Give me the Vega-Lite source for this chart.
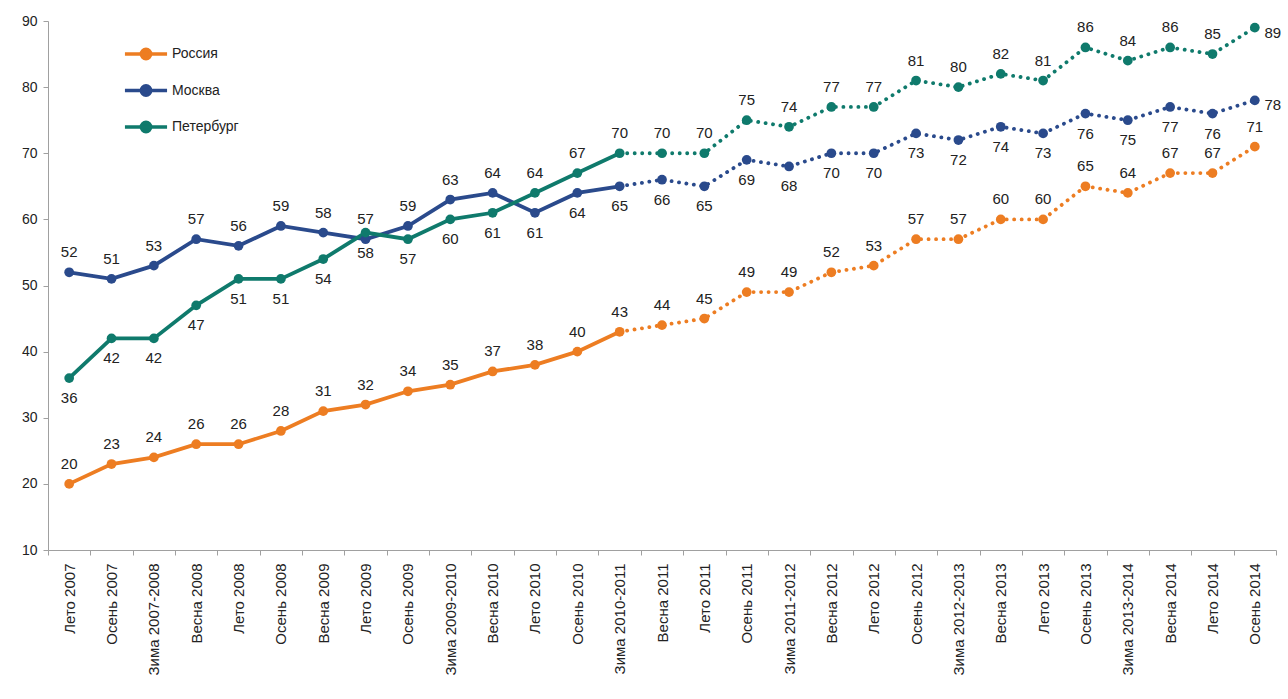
{
  "$schema": "https://vega.github.io/schema/vega-lite/v6.json",
  "width": 1228,
  "height": 529,
  "autosize": {"type": "none"},
  "padding": {"left": 48, "top": 21, "right": 12, "bottom": 149},
  "background": "white",
  "config": {
    "view": {"stroke": null},
    "font": "Liberation Sans",
    "axis": {"grid": false, "domainColor": "#a0a0a0", "tickColor": "#a0a0a0", "labelColor": "#222", "labelFont": "Liberation Sans"}
  },
  "data": {
    "values": [
      {"idx": 0, "period": "Лето 2007", "series": "Россия", "value": 20},
      {"idx": 1, "period": "Осень 2007", "series": "Россия", "value": 23},
      {"idx": 2, "period": "Зима 2007-2008", "series": "Россия", "value": 24},
      {"idx": 3, "period": "Весна 2008", "series": "Россия", "value": 26},
      {"idx": 4, "period": "Лето 2008", "series": "Россия", "value": 26},
      {"idx": 5, "period": "Осень 2008", "series": "Россия", "value": 28},
      {"idx": 6, "period": "Весна 2009", "series": "Россия", "value": 31},
      {"idx": 7, "period": "Лето 2009", "series": "Россия", "value": 32},
      {"idx": 8, "period": "Осень 2009", "series": "Россия", "value": 34},
      {"idx": 9, "period": "Зима 2009-2010", "series": "Россия", "value": 35},
      {"idx": 10, "period": "Весна 2010", "series": "Россия", "value": 37},
      {"idx": 11, "period": "Лето 2010", "series": "Россия", "value": 38},
      {"idx": 12, "period": "Осень 2010", "series": "Россия", "value": 40},
      {"idx": 13, "period": "Зима 2010-2011", "series": "Россия", "value": 43},
      {"idx": 14, "period": "Весна 2011", "series": "Россия", "value": 44},
      {"idx": 15, "period": "Лето 2011", "series": "Россия", "value": 45},
      {"idx": 16, "period": "Осень 2011", "series": "Россия", "value": 49},
      {"idx": 17, "period": "Зима 2011-2012", "series": "Россия", "value": 49},
      {"idx": 18, "period": "Весна 2012", "series": "Россия", "value": 52},
      {"idx": 19, "period": "Лето 2012", "series": "Россия", "value": 53},
      {"idx": 20, "period": "Осень 2012", "series": "Россия", "value": 57},
      {"idx": 21, "period": "Зима 2012-2013", "series": "Россия", "value": 57},
      {"idx": 22, "period": "Весна 2013", "series": "Россия", "value": 60},
      {"idx": 23, "period": "Лето 2013", "series": "Россия", "value": 60},
      {"idx": 24, "period": "Осень 2013", "series": "Россия", "value": 65},
      {"idx": 25, "period": "Зима 2013-2014", "series": "Россия", "value": 64},
      {"idx": 26, "period": "Весна 2014", "series": "Россия", "value": 67},
      {"idx": 27, "period": "Лето 2014", "series": "Россия", "value": 67},
      {"idx": 28, "period": "Осень 2014", "series": "Россия", "value": 71},
      {"idx": 0, "period": "Лето 2007", "series": "Москва", "value": 52},
      {"idx": 1, "period": "Осень 2007", "series": "Москва", "value": 51},
      {"idx": 2, "period": "Зима 2007-2008", "series": "Москва", "value": 53},
      {"idx": 3, "period": "Весна 2008", "series": "Москва", "value": 57},
      {"idx": 4, "period": "Лето 2008", "series": "Москва", "value": 56},
      {"idx": 5, "period": "Осень 2008", "series": "Москва", "value": 59},
      {"idx": 6, "period": "Весна 2009", "series": "Москва", "value": 58},
      {"idx": 7, "period": "Лето 2009", "series": "Москва", "value": 57},
      {"idx": 8, "period": "Осень 2009", "series": "Москва", "value": 59},
      {"idx": 9, "period": "Зима 2009-2010", "series": "Москва", "value": 63},
      {"idx": 10, "period": "Весна 2010", "series": "Москва", "value": 64},
      {"idx": 11, "period": "Лето 2010", "series": "Москва", "value": 61},
      {"idx": 12, "period": "Осень 2010", "series": "Москва", "value": 64},
      {"idx": 13, "period": "Зима 2010-2011", "series": "Москва", "value": 65},
      {"idx": 14, "period": "Весна 2011", "series": "Москва", "value": 66},
      {"idx": 15, "period": "Лето 2011", "series": "Москва", "value": 65},
      {"idx": 16, "period": "Осень 2011", "series": "Москва", "value": 69},
      {"idx": 17, "period": "Зима 2011-2012", "series": "Москва", "value": 68},
      {"idx": 18, "period": "Весна 2012", "series": "Москва", "value": 70},
      {"idx": 19, "period": "Лето 2012", "series": "Москва", "value": 70},
      {"idx": 20, "period": "Осень 2012", "series": "Москва", "value": 73},
      {"idx": 21, "period": "Зима 2012-2013", "series": "Москва", "value": 72},
      {"idx": 22, "period": "Весна 2013", "series": "Москва", "value": 74},
      {"idx": 23, "period": "Лето 2013", "series": "Москва", "value": 73},
      {"idx": 24, "period": "Осень 2013", "series": "Москва", "value": 76},
      {"idx": 25, "period": "Зима 2013-2014", "series": "Москва", "value": 75},
      {"idx": 26, "period": "Весна 2014", "series": "Москва", "value": 77},
      {"idx": 27, "period": "Лето 2014", "series": "Москва", "value": 76},
      {"idx": 28, "period": "Осень 2014", "series": "Москва", "value": 78},
      {"idx": 0, "period": "Лето 2007", "series": "Петербург", "value": 36},
      {"idx": 1, "period": "Осень 2007", "series": "Петербург", "value": 42},
      {"idx": 2, "period": "Зима 2007-2008", "series": "Петербург", "value": 42},
      {"idx": 3, "period": "Весна 2008", "series": "Петербург", "value": 47},
      {"idx": 4, "period": "Лето 2008", "series": "Петербург", "value": 51},
      {"idx": 5, "period": "Осень 2008", "series": "Петербург", "value": 51},
      {"idx": 6, "period": "Весна 2009", "series": "Петербург", "value": 54},
      {"idx": 7, "period": "Лето 2009", "series": "Петербург", "value": 58},
      {"idx": 8, "period": "Осень 2009", "series": "Петербург", "value": 57},
      {"idx": 9, "period": "Зима 2009-2010", "series": "Петербург", "value": 60},
      {"idx": 10, "period": "Весна 2010", "series": "Петербург", "value": 61},
      {"idx": 11, "period": "Лето 2010", "series": "Петербург", "value": 64},
      {"idx": 12, "period": "Осень 2010", "series": "Петербург", "value": 67},
      {"idx": 13, "period": "Зима 2010-2011", "series": "Петербург", "value": 70},
      {"idx": 14, "period": "Весна 2011", "series": "Петербург", "value": 70},
      {"idx": 15, "period": "Лето 2011", "series": "Петербург", "value": 70},
      {"idx": 16, "period": "Осень 2011", "series": "Петербург", "value": 75},
      {"idx": 17, "period": "Зима 2011-2012", "series": "Петербург", "value": 74},
      {"idx": 18, "period": "Весна 2012", "series": "Петербург", "value": 77},
      {"idx": 19, "period": "Лето 2012", "series": "Петербург", "value": 77},
      {"idx": 20, "period": "Осень 2012", "series": "Петербург", "value": 81},
      {"idx": 21, "period": "Зима 2012-2013", "series": "Петербург", "value": 80},
      {"idx": 22, "period": "Весна 2013", "series": "Петербург", "value": 82},
      {"idx": 23, "period": "Лето 2013", "series": "Петербург", "value": 81},
      {"idx": 24, "period": "Осень 2013", "series": "Петербург", "value": 86},
      {"idx": 25, "period": "Зима 2013-2014", "series": "Петербург", "value": 84},
      {"idx": 26, "period": "Весна 2014", "series": "Петербург", "value": 86},
      {"idx": 27, "period": "Лето 2014", "series": "Петербург", "value": 85},
      {"idx": 28, "period": "Осень 2014", "series": "Петербург", "value": 89}
    ]
  },
  "encoding": {
    "x": {
      "field": "period", "type": "nominal", "sort": {"field": "idx"},
      "scale": {"type": "band", "paddingInner": 0, "paddingOuter": 0},
      "axis": {"title": null, "labelAngle": -90, "labelAlign": "right", "labelBaseline": "middle", "labelFontSize": 15, "labelPadding": 8, "tickBand": "extent", "tickSize": 5, "labelLimit": 200}
    },
    "y": {
      "field": "value", "type": "quantitative",
      "scale": {"domain": [10, 90], "nice": false, "zero": false},
      "axis": {"title": null, "values": [10, 20, 30, 40, 50, 60, 70, 80, 90], "tickSize": 5, "labelFontSize": 14, "labelPadding": 6}
    },
    "color": {
      "field": "series", "type": "nominal",
      "scale": {"domain": ["Россия", "Москва", "Петербург"], "range": ["#ED7D22", "#2A4A8C", "#0F7A6C"]},
      "legend": {
        "title": null, "orient": "none", "legendX": 78, "legendY": 13, "padding": 0,
        "symbolType": "M-1.17,0L1.17,0M-0.26,0A0.26,0.26,0,1,1,0.26,0A0.26,0.26,0,1,1,-0.26,0Z",
        "symbolSize": 1296, "symbolStrokeWidth": 3.5, "rowPadding": 4.5, "labelOffset": 6,
        "labelFontSize": 14, "labelColor": "#222", "labelFont": "Liberation Sans",
        "encode": {"symbols": {"update": {"fill": {"scale": "color", "field": "value"}, "stroke": {"scale": "color", "field": "value"}, "opacity": {"value": 1}, "fillOpacity": {"value": 1}}}}
      }
    }
  },
  "layer": [
    {
      "transform": [{"filter": "datum.idx <= 13"}],
      "mark": {"type": "line", "strokeWidth": 3.8},
      "encoding": {"detail": {"field": "series"}}
    },
    {
      "transform": [{"filter": "datum.idx >= 13"}],
      "mark": {"type": "line", "strokeWidth": 3.8, "strokeDash": [0.1, 7.4], "strokeCap": "round"},
      "encoding": {"detail": {"field": "series"}}
    },
    {
      "mark": {"type": "circle", "size": 95, "opacity": 1}
    },
    {
      "transform": [{"filter": "datum.series == 'Россия' || (datum.series == 'Москва' && datum.idx <= 10) || (datum.series == 'Петербург' && datum.idx >= 11 && datum.idx < 28)"}],
      "mark": {"type": "text", "dy": -20, "fontSize": 15, "baseline": "middle"},
      "encoding": {"text": {"field": "value"}, "color": {"value": "#222"}}
    },
    {
      "transform": [{"filter": "(datum.series == 'Петербург' && datum.idx <= 10) || (datum.series == 'Москва' && datum.idx >= 11 && datum.idx < 28)"}],
      "mark": {"type": "text", "dy": 20, "fontSize": 15, "baseline": "middle"},
      "encoding": {"text": {"field": "value"}, "color": {"value": "#222"}}
    },
    {
      "transform": [{"filter": "datum.series != 'Россия' && datum.idx == 28"}],
      "mark": {"type": "text", "dx": 18, "dy": 5, "fontSize": 15, "baseline": "middle"},
      "encoding": {"text": {"field": "value"}, "color": {"value": "#222"}}
    }
  ]
}
